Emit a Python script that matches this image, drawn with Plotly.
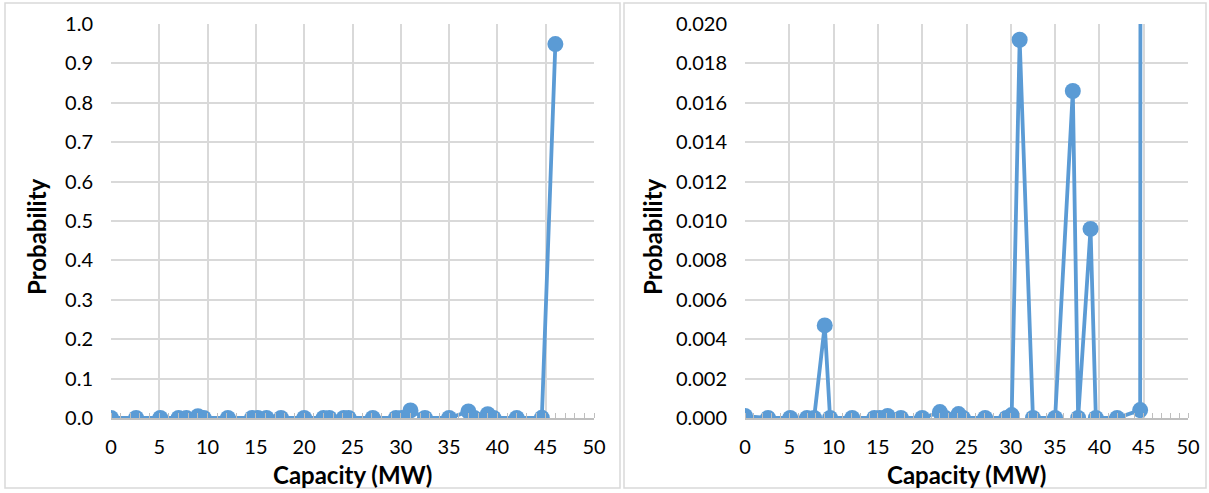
import plotly.graph_objects as go

capacity_mw = [0, 2.6, 5.1, 7.0, 7.8, 9.0, 9.6, 12.1, 14.6, 15.2, 16.1, 17.6, 20.0, 22.0, 22.6,
               24.1, 24.6, 27.1, 29.5, 30.1, 31.0, 32.5, 35.0, 37.0, 37.6, 39.0, 39.6, 42.0, 44.6, 46.0]
probability = [0.0001, 0, 0, 0, 0, 0.0047, 0, 0, 0, 0, 0.0001, 0, 0, 0.0003, 0,
               0.0002, 0, 0, 0, 0.00015, 0.0192, 0, 0, 0.0166, 0, 0.0096, 0, 0, 0.0004, 0.949]

x_ticks = [0, 5, 10, 15, 20, 25, 30, 35, 40, 45, 50]

W, H = 1209, 493
BLUE = "#5b9bd5"
GRID = "#d9d9d9"
FONT = "Lato"

def px_x(v):
    return v / W

def px_y(v):
    return 1 - v / H

fig = go.Figure()
for ax in ["x", "x2"]:
    fig.add_trace(go.Scatter(
        x=capacity_mw, y=probability, mode="lines+markers",
        line=dict(color=BLUE, width=3.8),
        marker=dict(color=BLUE, size=16),
        xaxis=ax, yaxis=ax.replace("x", "y"), showlegend=False,
        cliponaxis=True,
    ))

xcommon = dict(
    range=[0, 50], tickvals=x_ticks, showgrid=True, gridcolor=GRID, gridwidth=1.5,
    zeroline=False, showline=True, linecolor="#bfbfbf", linewidth=1.5, ticks="",
    minor=dict(dtick=1, ticks="inside", ticklen=5, tickcolor="#bfbfbf", tickwidth=1, showgrid=False),
    tickfont=dict(family=FONT, size=20, color="#000"), ticklabelstandoff=10,
    automargin=False,
)
ycommon = dict(
    showgrid=True, gridcolor=GRID, gridwidth=1.5, zeroline=False, showline=False, ticks="",
    tickfont=dict(family=FONT, size=20, color="#000"), ticklabelstandoff=17,
    automargin=False,
)

fig.update_layout(
    width=W, height=H, margin=dict(l=0, r=0, t=0, b=0, autoexpand=False),
    paper_bgcolor="white", plot_bgcolor="white",
    xaxis=dict(domain=[px_x(111), px_x(594)], anchor="y", **xcommon),
    yaxis=dict(domain=[px_y(418), px_y(24)], anchor="x", range=[0, 1.0], dtick=0.1,
               tickformat=".1f", **ycommon),
    xaxis2=dict(domain=[px_x(745), px_x(1188)], anchor="y2", **xcommon),
    yaxis2=dict(domain=[px_y(418), px_y(24)], anchor="x2", range=[0, 0.02], dtick=0.002,
                tickformat=".3f", **ycommon),
)

# chart-area borders
for x0, x1 in [(5, 620), (624, 1206)]:
    fig.add_shape(type="rect", xref="paper", yref="paper",
                  x0=px_x(x0), x1=px_x(x1), y0=px_y(488), y1=px_y(3),
                  line=dict(color=GRID, width=1.5), fillcolor="rgba(0,0,0,0)", layer="below")

title_font = dict(family=FONT, size=24, color="#000")
for cx in [352, 966]:
    fig.add_annotation(text="<b>Capacity (MW)</b>", xref="paper", yref="paper",
                       x=px_x(cx), y=px_y(474), showarrow=False, font=title_font,
                       xanchor="center", yanchor="middle")
for cx in [36, 652]:
    fig.add_annotation(text="<b>Probability</b>", xref="paper", yref="paper",
                       x=px_x(cx), y=px_y(237), showarrow=False, font=title_font,
                       textangle=-90, xanchor="center", yanchor="middle")

fig.write_html(
    "out.html",
    config={"displayModeBar": False},
    post_script="document.body.style.margin='0';document.body.style.overflow='hidden';",
)
